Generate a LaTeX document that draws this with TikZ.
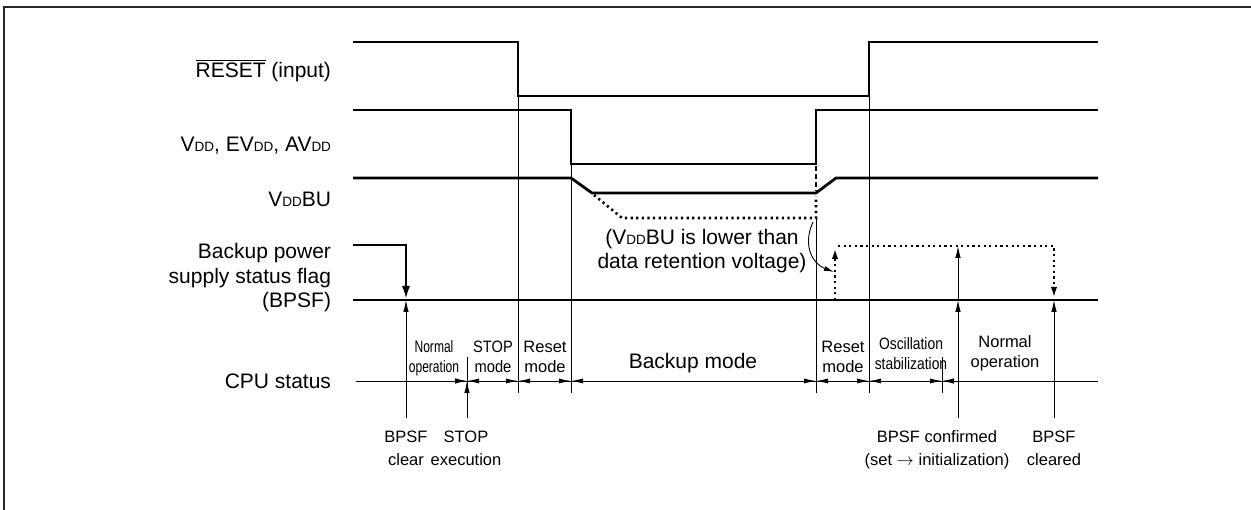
\documentclass[tikz,border=0pt]{standalone}
\usepackage{fontspec}
\usepackage{graphicx}
\setmainfont{Liberation Sans}
\usetikzlibrary{arrows.meta}
\newcommand{\sDD}{{\fontsize{13.5}{13.5}\selectfont DD}}
\newcommand{\cnd}[2]{\scalebox{#1}[1]{#2}}
\newcommand{\ovl}[1]{\leavevmode\vbox{\hrule height 0.9pt\kern 2.6pt\hbox{#1}}}
\begin{document}
\begin{tikzpicture}[x=1pt,y=-1pt,
  sig/.style={line width=2.8pt},
  guide/.style={line width=0.9pt},
  dots/.style={line width=2.6pt, dash pattern=on 2.2pt off 3.4pt},
  uptip/.style={-{Latex[length=12pt,width=5.5pt]}},
  dimarrow/.style={guide,{Latex[length=12pt,width=5pt]}-{Latex[length=12pt,width=5pt]}},
  big/.style={font=\fontsize{21}{24.5}\selectfont},
  small/.style={font=\fontsize{16.5}{20.5}\selectfont},
  evt/.style={font=\fontsize{16.5}{23}\selectfont},
  inner sep=0pt, outer sep=0pt]
\useasboundingbox (0,0) rectangle (1251,510);
% frame
\draw[line width=2pt, black!85] (4,510) -- (4,7) -- (1251,7);

% left labels
\node[big, anchor=base east] (lreset) at (331,78) {\ovl{RESET} (input)};
\node[big, anchor=base east] (lvdd) at (331,152) {V\sDD, EV\sDD, AV\sDD};
\node[big, anchor=base east] (lvddbu) at (331,207) {V\sDD BU};
\node[big, anchor=base east, align=right] (lbpsf) at (331,308) {Backup power\\supply status flag\\(BPSF)};
\node[big, anchor=base east] (lcpu) at (331,389) {CPU status};

% RESET
\draw[sig] (353,42) -- (518,42) -- (518,96) -- (869,96) -- (869,42) -- (1098,42);
% VDD
\draw[sig] (353,110) -- (571,110) -- (571,164) -- (816,164) -- (816,110) -- (1098,110);
% VDDBU
\draw[sig] (353,178) -- (571,178) -- (592,193) -- (816,193) -- (836,178) -- (1098,178);
\draw[dots] (594,195) -- (622,218) -- (816,218) -- (816,196);
\draw[line width=1.8pt, dash pattern=on 5pt off 3pt] (816,166) -- (816,191);

% guide lines
\draw[guide] (518,96) -- (518,393);
\draw[guide] (571,164) -- (571,393);
\draw[guide] (816,218) -- (816,393);
\draw[guide] (869,96) -- (869,393);

% BPSF
\draw[sig] (353,300) -- (1098,300);
\draw[sig, -{Latex[length=14pt,width=8pt]}] (353,245) -- (406,245) -- (406,300);
\draw[guide, uptip] (406,418) -- (406,300);
\draw[dots, -{Latex[length=13pt,width=6pt]}] (835,300) -- (835,246);
\draw[dots, -{Latex[length=13pt,width=6pt]}] (838,246) -- (1054,246) -- (1054,300);
\draw[guide, uptip] (958,418) -- (958,300);
\draw[guide, uptip] (958,300) -- (958,246);
\draw[guide, uptip] (1054,418) -- (1054,300);

% annotation
\node[big, align=center, anchor=base] (note) at (702,269) {(V\sDD BU is lower than\\data retention voltage)};
\draw[guide, -{Latex[length=10pt,width=5pt]}] (813,222) .. controls (802,246) and (813,264) .. (834,272);

% CPU status line
\draw[guide] (356,381) -- (1098,381);
\draw[guide] (467,357) -- (467,418);
\draw[guide, uptip] (467,418) -- (467,381);
\draw[guide] (942,357) -- (942,393);
\draw[guide, uptip] (440,381) -- (467,381);
\draw[dimarrow] (467,381) -- (518,381);
\draw[dimarrow] (518,381) -- (571,381);
\draw[dimarrow] (571,381) -- (816,381);
\draw[dimarrow] (816,381) -- (869,381);
\draw[dimarrow] (869,381) -- (942,381);
\draw[guide, uptip] (970,381) -- (942,381);

% status labels
\node[small, align=center, anchor=base] (s1) at (434,373) {\cnd{0.73}{Normal}\\\cnd{0.73}{operation}};
\node[small, align=center, anchor=base] (s2) at (493,373) {\cnd{0.89}{STOP}\\\cnd{0.89}{mode}};
\node[small, align=center, anchor=base] (s3) at (545,373) {Reset\\mode};
\node[big, anchor=base] (s4) at (693,369) {Backup mode};
\node[small, align=center, anchor=base] (s5) at (843,373) {Reset\\mode};
\node[small, align=center, anchor=base] (s6) at (911,370) {\cnd{0.84}{Oscillation}\\\cnd{0.84}{stabilization}};
\node[small, align=center, anchor=base] (s7) at (1005,368) {Normal\\operation};

% event labels
\node[evt, align=center, anchor=base] (e1) at (406,466) {BPSF\\clear};
\node[evt, align=center, anchor=base] (e2) at (466,466) {STOP\\execution};
\node[evt, align=center, anchor=base] (e3) at (937,466) {BPSF confirmed\\(set $\rightarrow$ initialization)};
\node[evt, align=center, anchor=base] (e4) at (1054,466) {BPSF\\cleared};
\end{tikzpicture}
\end{document}
